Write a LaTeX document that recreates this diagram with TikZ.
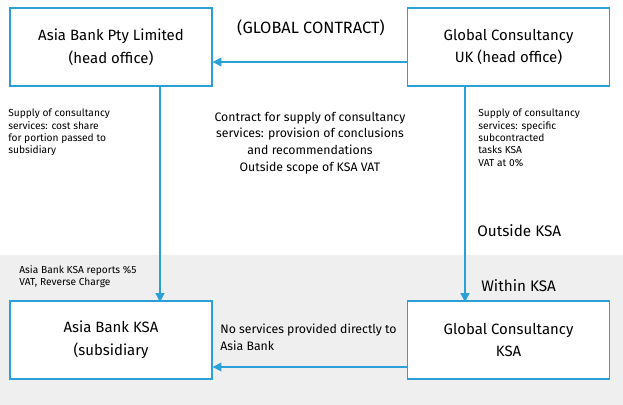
\documentclass[tikz,border=0pt]{standalone}
\usepackage{fontspec}
\setmainfont{Fira Sans}
\usetikzlibrary{arrows.meta}
\definecolor{lineblue}{HTML}{2A9FD8}
\definecolor{bandgray}{HTML}{EFEFEF}
\tikzset{box/.style={draw=lineblue, thick, fill=white, minimum width=4.04cm, minimum height=1.56cm, align=center, font=\fontsize{8.5}{13}\selectfont},
  flow/.style={draw=lineblue, thick, -{Triangle[length=5pt,width=5pt]}},
  note/.style={align=left, anchor=north west, inner sep=0pt, font=\fontsize{5.8}{7}\selectfont},
  mid/.style={align=center, font=\fontsize{7}{9.5}\selectfont}}

\begin{document}
\begin{tikzpicture}[x=0.02cm,y=-0.02cm]
                    \useasboundingbox (0,0) rectangle (623,405);
                    \fill[bandgray] (0,255) rectangle (623,405);
                    \node[box] (bankho) at (111,47) {Asia Bank Pty Limited\\(head office)};
                    \node[box] (consho) at (508.5,47) {Global Consultancy\\UK (head office)};
                    \node[box] (banksub) at (111,340) {Asia Bank KSA\\(subsidiary};
                    \node[box] (conssub) at (508.5,340) {Global Consultancy\\KSA};
                    \node[mid, font=\fontsize{9.3}{11}\selectfont] (glob) at (311,28) {(GLOBAL CONTRACT)};
                    \coordinate (a1) at (consho.west |- 0,62);
                    \coordinate (a2) at (bankho.east |- 0,62);
                    \draw[flow] (a1) -- (a2);
                    \coordinate (b1) at (160,86);
                    \coordinate (b2) at (160,302);
                    \draw[flow] (b1) -- (b2);
                    \coordinate (c1) at (465,86);
                    \coordinate (c2) at (465,302);
                    \draw[flow] (c1) -- (c2);
                    \coordinate (d1) at (conssub.west |- 0,367);
                    \coordinate (d2) at (banksub.east |- 0,367);
                    \draw[flow] (d1) -- (d2);
                    \node[note] (n1) at (8,109) {Supply of consultancy\\services: cost share\\for portion passed to\\subsidiary};
                    \node[note] (n2) at (478,109) {Supply of consultancy\\services: specific\\subcontracted\\tasks KSA\\VAT at 0\%};
                    \node[note] (n3) at (19,265) {Asia Bank KSA reports \%5\\VAT, Reverse Charge};
                    \node[mid] (cm) at (310,143) {Contract for supply of consultancy\\services: provision of conclusions\\and recommendations\\Outside scope of KSA VAT};
                    \node[mid, anchor=west, inner sep=0pt, font=\fontsize{8.7}{10}\selectfont] (outk) at (477,231) {Outside KSA};
                    \node[mid, anchor=west, inner sep=0pt, font=\fontsize{8.7}{10}\selectfont] (ink) at (481,286) {Within KSA};
                    \node[mid, align=left, anchor=west, inner sep=0pt] (nos) at (220,337) {No services provided directly to\\Asia Bank};
                \end{tikzpicture}
\end{document}
